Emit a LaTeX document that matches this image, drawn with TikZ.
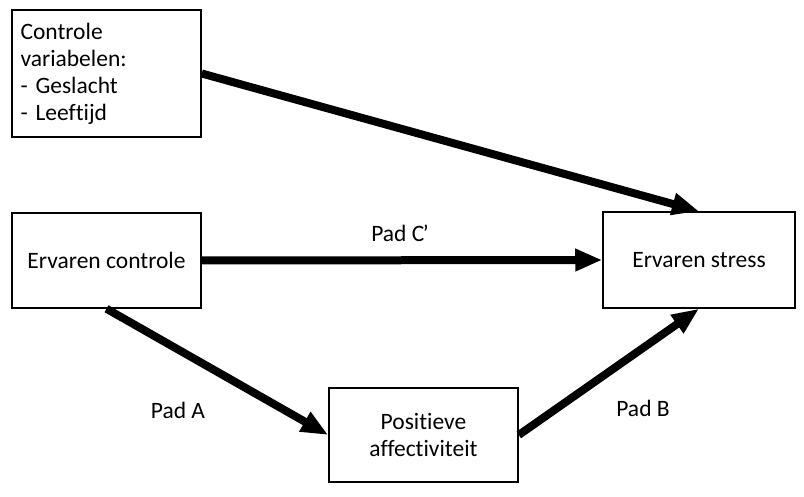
\documentclass[tikz,border=0pt]{standalone}
\usepackage{fontspec}
\setmainfont[RawFeature=-liga]{Carlito}
\usetikzlibrary{arrows.meta}
\begin{document}
\begin{tikzpicture}[x=1pt, y=-1pt, font=\fontsize{23.5}{27}\selectfont,
  >={Triangle[length=27pt,width=21pt]},
  box/.style={draw, line width=1.5pt, minimum width=189pt, inner sep=0pt, align=center},
  path/.style={->, line width=8pt}]
\useasboundingbox (0,0) rectangle (804,497);

\node[box, minimum height=127pt, text width=172pt, align=left] (ctrl) at (106.5,73.5)
  {Controle\\variabelen:\\- Geslacht\\- Leeftijd};
\node[box, minimum height=95pt] (ec) at (106.5,260.5){Ervaren controle};
\node[box, minimum width=192pt, minimum height=96pt] (es) at (699,260){Ervaren stress};
\node[box, minimum height=94pt] (pa) at (423.5,435){Positieve\\affectiviteit};

\draw[path] (ctrl.east) -- (es.north);
\draw[path] (ec.east) -- (es.west);
\draw[path] (ec.south) -- (pa.west);
\draw[path] (pa.east) -- (es.south);

\node (padc) at (400,233){Pad C\kern-1.5pt’};
\node (pada) at (178,410){Pad A};
\node (padb) at (643,408){Pad B};
\end{tikzpicture}
\end{document}
